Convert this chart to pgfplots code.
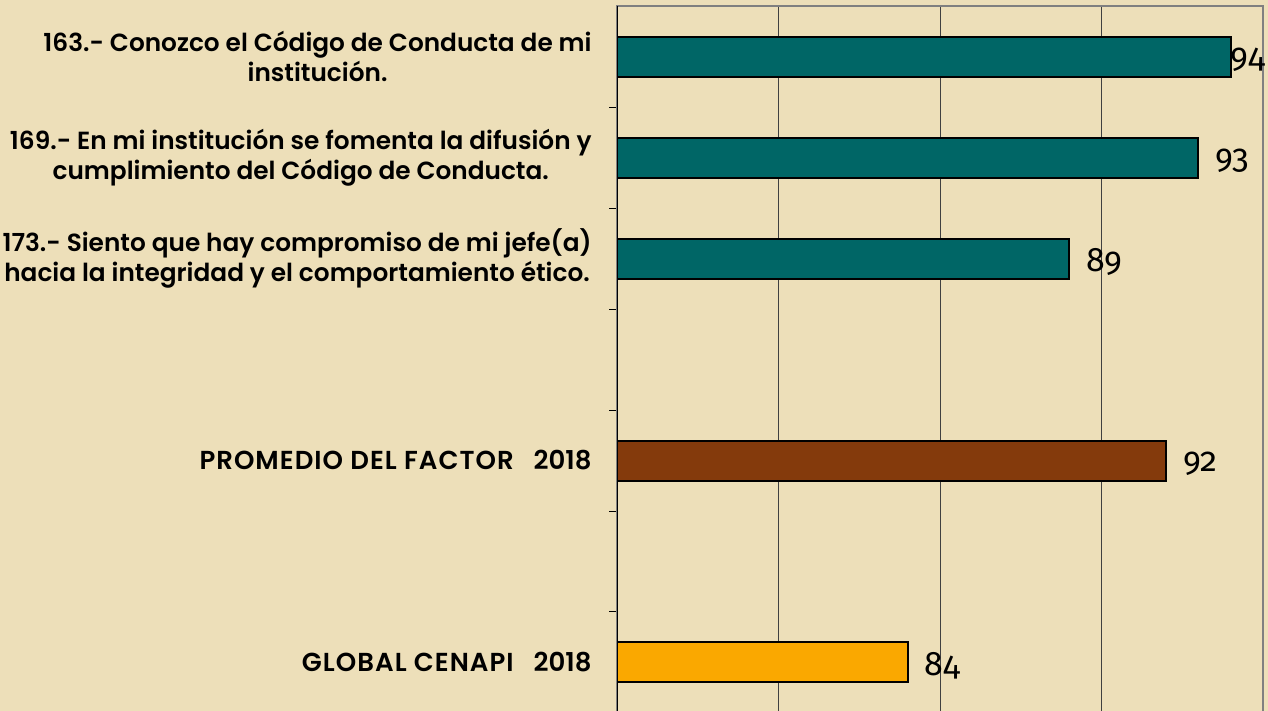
\documentclass[border=0pt]{standalone}
\usepackage{fontspec}
\setmainfont{Fira Sans}[Numbers=OldStyle]
\newfontfamily\labfont{Poppins}[BoldFont=* SemiBold]
\usepackage{pgfplots}
\pgfplotsset{compat=1.18}
\definecolor{bg}{RGB}{237,223,185}
\definecolor{teal1}{RGB}{0,102,102}
\definecolor{brown1}{RGB}{132,58,12}
\definecolor{orange1}{RGB}{250,168,0}
\newcommand{\caplab}[1]{{\fontsize{13}{15}\selectfont\addfontfeature{LetterSpace=4}#1}\hspace{10pt}{\fontsize{13}{15}\selectfont 2018}}
\begin{document}
\begin{tikzpicture}
\fill[bg] (0,0) rectangle (634pt,355.5pt);
\useasboundingbox (0,0) rectangle (634pt,355.5pt);
\begin{axis}[
  at={(308.5pt,-1pt)}, anchor=south west,
  scale only axis, width=323pt, height=353.5pt,
  xmin=75, xmax=95, ymin=-0.5, ymax=6.5,
  xtick={80,85,90}, xticklabels={}, xmajorgrids,
  grid style={black!75, line width=0.5pt},
  ytick={0,2,4,5,6}, ytick pos=left,
  yticklabels={{\caplab{GLOBAL CENAPI}},{\caplab{PROMEDIO DEL FACTOR}},{173.- Siento que hay compromiso de mi jefe(a)\\hacia la integridad y el comportamiento ético.},{169.- En mi institución se fomenta la difusión y\\cumplimiento del Código de Conducta.},{163.- Conozco el Código de Conducta de mi\\institución.}},
  yticklabel style={align=center, font=\labfont\bfseries\fontsize{12.4}{15}\selectfont, inner sep=0pt, xshift=-12.5pt},
  major tick length=0pt,
  minor ytick={0.5,1.5,...,5.5}, minor tick length=4pt, tick align=outside,
  minor tick style={black, line width=0.5pt},
  axis line style={gray, line width=0.75pt},
  xbar, bar width=20pt, bar shift=0pt,
  /pgf/number format/assume math mode=true,
  nodes near coords,
  nodes near coords style={font=\fontsize{17}{18}\selectfont, anchor=west, inner sep=0pt, xshift=8pt, yshift=-1.5pt, text=black},
]
\addplot[fill=teal1, draw=black, line width=1pt, nodes near coords style={xshift=-8.5pt}] coordinates {(94,6)};
\addplot[fill=teal1, draw=black, line width=1pt] coordinates {(93,5) (89,4)};
\addplot[fill=brown1, draw=black, line width=1pt] coordinates {(92,2)};
\addplot[fill=orange1, draw=black, line width=1pt] coordinates {(84,0)};
\draw[black, line width=0.75pt] (rel axis cs:0,0) -- (rel axis cs:0,1);
\end{axis}
\end{tikzpicture}
\end{document}
